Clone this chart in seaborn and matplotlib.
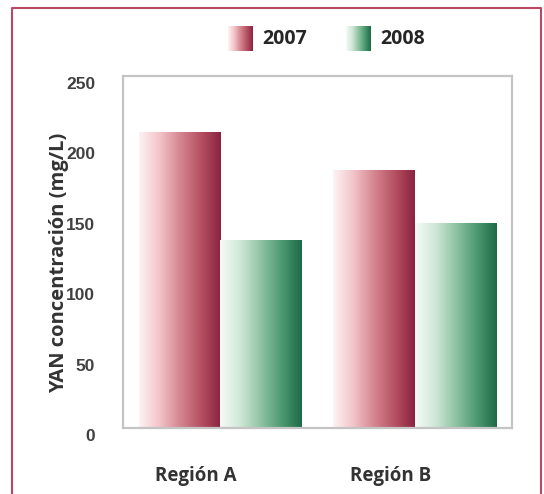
import matplotlib
matplotlib.use('Agg')
import matplotlib.pyplot as plt
import matplotlib.transforms as mtransforms
from matplotlib.colors import LinearSegmentedColormap
from matplotlib.image import BboxImage
from matplotlib.legend_handler import HandlerBase
from matplotlib.patches import Rectangle
from matplotlib.lines import Line2D
import numpy as np
import pandas as pd
import seaborn as sns

# Data
regions = ['Región A', 'Región B']
years = ['2007', '2008']
yan_2007 = [210, 183]
yan_2008 = [133, 145]
y_ticks = [0, 50, 100, 150, 200, 250]

df = pd.DataFrame({
    'region': regions * 2,
    'year': [years[0]] * 2 + [years[1]] * 2,
    'yan': yan_2007 + yan_2008,
})

# Gradient colour maps (light left -> dark right)
red_cmap = LinearSegmentedColormap.from_list('r', ['#fdf3f4', '#f2c4c9', '#d58690', '#b65263', '#8a2340'])
green_cmap = LinearSegmentedColormap.from_list('g', ['#f6fbf7', '#cfe7d7', '#8fc3a2', '#4e9a72', '#1c6a47'])
cmaps = [red_cmap, green_cmap]
grad = np.linspace(0, 1, 256).reshape(1, -1)

sns.set_style('white')
plt.rcParams['font.family'] = ['Open Sans', 'DejaVu Sans']

fig = plt.figure(figsize=(5.44, 4.94), dpi=100)
ax = fig.add_axes([0.2261, 0.1336, 0.715, 0.7126])

sns.barplot(data=df, x='region', y='yan', hue='year', palette=['#b65263', '#4e9a72'],
            width=0.84, gap=0, legend=False, ax=ax)

# Replace flat fills with horizontal gradients
for cont, cm in zip(ax.containers, cmaps):
    for p in cont.patches:
        x0, w, h = p.get_x(), p.get_width(), p.get_height()
        ax.imshow(grad, extent=[x0, x0 + w, 0, h], aspect='auto', cmap=cm,
                  interpolation='bicubic', zorder=2)
        p.set_visible(False)

ax.set_xlim(-0.5, 1.5)
ax.set_ylim(0, 250)
ax.set_yticks(y_ticks)
ax.set_xlabel('')
ax.set_ylabel('YAN concentración (mg/L)', fontsize=14.5, fontweight='bold', color='#333333')
ax.yaxis.set_label_coords(-0.14, 0.47)

for s in ax.spines.values():
    s.set_color('#c4c4c4')
    s.set_linewidth(1.6)
ax.tick_params(axis='both', length=0)
ax.tick_params(axis='y', pad=20)
ax.tick_params(axis='x', pad=27)

for lab in ax.get_yticklabels():
    lab.set_fontfamily(['Liberation Sans Narrow', 'Liberation Sans'])
    lab.set_fontweight('bold')
    lab.set_fontsize(12.5)
    lab.set_color('#404040')
    lab.set_transform(lab.get_transform() + mtransforms.ScaledTranslation(0, -0.07, fig.dpi_scale_trans))
for lab in ax.get_xticklabels():
    lab.set_fontsize(13.5)
    lab.set_fontweight('bold')
    lab.set_color('#333333')
    lab.set_transform(lab.get_transform() + mtransforms.ScaledTranslation(-0.24, 0, fig.dpi_scale_trans))


class GradHandler(HandlerBase):
    def __init__(self, cmap):
        super().__init__()
        self.cmap = cmap

    def create_artists(self, legend, orig_handle, xdescent, ydescent, width, height, fontsize, trans):
        bb = mtransforms.TransformedBbox(mtransforms.Bbox.from_bounds(-xdescent, -ydescent, width, height), trans)
        img = BboxImage(bb, cmap=self.cmap, interpolation='bicubic')
        img.set_data(grad)
        return [img]


h1 = Rectangle((0, 0), 1, 1)
h2 = Rectangle((0, 0), 1, 1)
fig.legend([h1, h2], years, loc='center', bbox_to_anchor=(0.6, 0.923), ncol=2, frameon=False,
           handlelength=1.25, handleheight=1.6, handletextpad=0.5, columnspacing=2.0,
           handler_map={h1: GradHandler(red_cmap), h2: GradHandler(green_cmap)},
           prop={'weight': 'bold', 'size': 14, 'family': ['Open Sans', 'DejaVu Sans']})

# Outer red frame (open at the bottom)
bc = '#b94a62'
fig.add_artist(Line2D([12 / 544, 12 / 544, 541 / 544, 541 / 544], [0, 1 - 8 / 494, 1 - 8 / 494, 0],
                      transform=fig.transFigure, color=bc, lw=1.5))

fig.savefig('out.png', dpi=100)
